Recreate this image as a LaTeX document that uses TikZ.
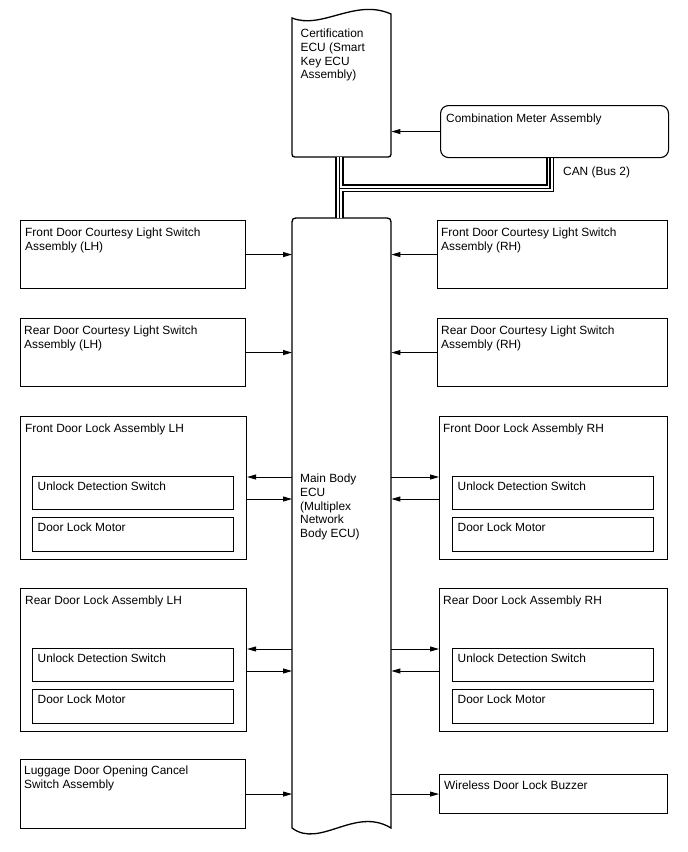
\documentclass[tikz,border=0pt]{standalone}
\usepackage{fontspec}
\setmainfont{Liberation Sans}
\usetikzlibrary{calc,arrows.meta}
\begin{document}
\begin{tikzpicture}[x=1pt,y=-1pt,
  box/.style={draw,line width=1.1pt,inner sep=0pt,anchor=north west},
  lbl/.style={anchor=north west,inner sep=0pt,align=left,font=\fontsize{11.9}{13.7}\selectfont},
  arr/.style={line width=0.9pt,-{Triangle[length=9pt,width=5pt]}},
  ecu/.style={line width=1.3pt}]
\useasboundingbox (0,0) rectangle (688,852);
% ECU anchor nodes (shapes drawn below)
\node[inner sep=0pt,minimum width=99pt,minimum height=143pt,anchor=north west] (cert) at (292,14) {};
\node[inner sep=0pt,minimum width=99pt,minimum height=610pt,anchor=north west] (main) at (292,218) {};
% Certification ECU shape
\draw[ecu] (292,18) .. controls (322,30) and (355,-2) .. (391,14) -- (391,151)
  .. controls (391,157) .. (385,157) -- (298,157) .. controls (292,157) .. (292,151) -- cycle;
% Main body ECU shape
\draw[ecu] (292,828) -- (292,226) .. controls (292,218) .. (300,218) -- (383,218)
  .. controls (391,218) .. (391,226) -- (391,828) .. controls (355,806) and (320,849) .. (292,828) -- cycle;
\node[lbl] (certtxt) at (300.5,29) {Certification\\ECU (Smart\\Key ECU\\Assembly)};
\node[lbl] (maintxt) at (300,474) {Main Body\\ECU\\(Multiplex\\Network\\Body ECU)};
% Combination meter
\node[box,rounded corners=8pt,minimum width=228pt,minimum height=52pt] (comb) at (440,105) {};
\node[lbl] (combtxt) at ($(comb.north west)+(6,9)$) {Combination Meter Assembly};
\draw[arr] (comb.west) -- (comb.west -| cert.east);
% CAN bus
\coordinate (bA) at ($(cert.south)+(-2.3,0)$);
\coordinate (bB) at (bA |- main.north);
\coordinate (bC) at ($(comb.south west)+(110,0)$);
\coordinate (bD) at ($(bC)+(0,30)$);
\coordinate (bE) at (bA |- bD);
\foreach \w/\c in {8.5pt/black,5pt/white,1.2pt/black}{
  \draw[line width=\w,color=\c] (bA) -- (bB);
  \draw[line width=\w,color=\c] (bC) -- (bD) -- (bE);
}
\node[lbl] (cantxt) at (563,167) {CAN (Bus 2)};
% Left side
\node[box,minimum width=225pt,minimum height=68pt] (fcl) at (20,220) {};
\node[lbl] (fcltxt) at ($(fcl.north west)+(5,8)$) {Front Door Courtesy Light Switch\\Assembly (LH)};
\draw[arr] (fcl.east) -- (fcl.east -| main.west);
\node[box,minimum width=225pt,minimum height=68pt] (rcl) at (20,318) {};
\node[lbl] (rcltxt) at ($(rcl.north west)+(4,8)$) {Rear Door Courtesy Light Switch\\Assembly (LH)};
\draw[arr] (rcl.east) -- (rcl.east -| main.west);
% Front door lock LH
\node[box,minimum width=226pt,minimum height=143pt] (fdl) at (20,416) {};
\node[lbl] (fdltxt) at ($(fdl.north west)+(5,7.5)$) {Front Door Lock Assembly LH};
\node[box,minimum width=201pt,minimum height=33pt] (fdlu) at (32,476) {};
\node[lbl] (fdlutxt) at ($(fdlu.north west)+(5.5,6)$) {Unlock Detection Switch};
\node[box,minimum width=201pt,minimum height=34pt] (fdlm) at (32,517) {};
\node[lbl] (fdlmtxt) at ($(fdlm.north west)+(5.5,6)$) {Door Lock Motor};
\coordinate (fdlA) at ($(fdl.north east)+(0,61)$);
\coordinate (fdlB) at ($(fdl.north east)+(0,83)$);
\draw[arr] (main.west |- fdlA) -- (fdlA);
\draw[arr] (fdlB) -- (main.west |- fdlB);
% Rear door lock LH
\node[box,minimum width=226pt,minimum height=143pt] (rdl) at (20,588) {};
\node[lbl] (rdltxt) at ($(rdl.north west)+(5,7.5)$) {Rear Door Lock Assembly LH};
\node[box,minimum width=201pt,minimum height=33pt] (rdlu) at (32,648) {};
\node[lbl] (rdlutxt) at ($(rdlu.north west)+(5.5,6)$) {Unlock Detection Switch};
\node[box,minimum width=201pt,minimum height=34pt] (rdlm) at (32,689) {};
\node[lbl] (rdlmtxt) at ($(rdlm.north west)+(5.5,6)$) {Door Lock Motor};
\coordinate (rdlA) at ($(rdl.north east)+(0,61)$);
\coordinate (rdlB) at ($(rdl.north east)+(0,83)$);
\draw[arr] (main.west |- rdlA) -- (rdlA);
\draw[arr] (rdlB) -- (main.west |- rdlB);
% Luggage
\node[box,minimum width=225pt,minimum height=69pt] (lug) at (20,759) {};
\node[lbl] (lugtxt) at ($(lug.north west)+(4,7)$) {Luggage Door Opening Cancel\\Switch Assembly};
\draw[arr] (lug.east) -- (lug.east -| main.west);
% Right side
\node[box,minimum width=230pt,minimum height=68pt] (fcr) at (437,220) {};
\node[lbl] (fcrtxt) at ($(fcr.north west)+(4,8)$) {Front Door Courtesy Light Switch\\Assembly (RH)};
\draw[arr] (fcr.west) -- (fcr.west -| main.east);
\node[box,minimum width=230pt,minimum height=68pt] (rcr) at (437,318) {};
\node[lbl] (rcrtxt) at ($(rcr.north west)+(4,8)$) {Rear Door Courtesy Light Switch\\Assembly (RH)};
\draw[arr] (rcr.west) -- (rcr.west -| main.east);
% Front door lock RH
\node[box,minimum width=228pt,minimum height=143pt] (fdr) at (439,416) {};
\node[lbl] (fdrtxt) at ($(fdr.north west)+(4,7.5)$) {Front Door Lock Assembly RH};
\node[box,minimum width=201pt,minimum height=33pt] (fdru) at (452,476) {};
\node[lbl] (fdrutxt) at ($(fdru.north west)+(5.5,6)$) {Unlock Detection Switch};
\node[box,minimum width=201pt,minimum height=34pt] (fdrm) at (452,517) {};
\node[lbl] (fdrmtxt) at ($(fdrm.north west)+(5.5,6)$) {Door Lock Motor};
\coordinate (fdrA) at ($(fdr.north west)+(0,61)$);
\coordinate (fdrB) at ($(fdr.north west)+(0,83)$);
\draw[arr] (main.east |- fdrA) -- (fdrA);
\draw[arr] (fdrB) -- (main.east |- fdrB);
% Rear door lock RH
\node[box,minimum width=228pt,minimum height=143pt] (rdr) at (439,588) {};
\node[lbl] (rdrtxt) at ($(rdr.north west)+(4,7.5)$) {Rear Door Lock Assembly RH};
\node[box,minimum width=201pt,minimum height=33pt] (rdru) at (452,648) {};
\node[lbl] (rdrutxt) at ($(rdru.north west)+(5.5,6)$) {Unlock Detection Switch};
\node[box,minimum width=201pt,minimum height=34pt] (rdrm) at (452,689) {};
\node[lbl] (rdrmtxt) at ($(rdrm.north west)+(5.5,6)$) {Door Lock Motor};
\coordinate (rdrA) at ($(rdr.north west)+(0,61)$);
\coordinate (rdrB) at ($(rdr.north west)+(0,83)$);
\draw[arr] (main.east |- rdrA) -- (rdrA);
\draw[arr] (rdrB) -- (main.east |- rdrB);
% Buzzer
\node[box,minimum width=228pt,minimum height=39pt] (buz) at (439,774) {};
\node[lbl] (buztxt) at ($(buz.north west)+(5,7)$) {Wireless Door Lock Buzzer};
\draw[arr] (main.east |- buz.west) -- (buz.west);
\end{tikzpicture}
\end{document}
